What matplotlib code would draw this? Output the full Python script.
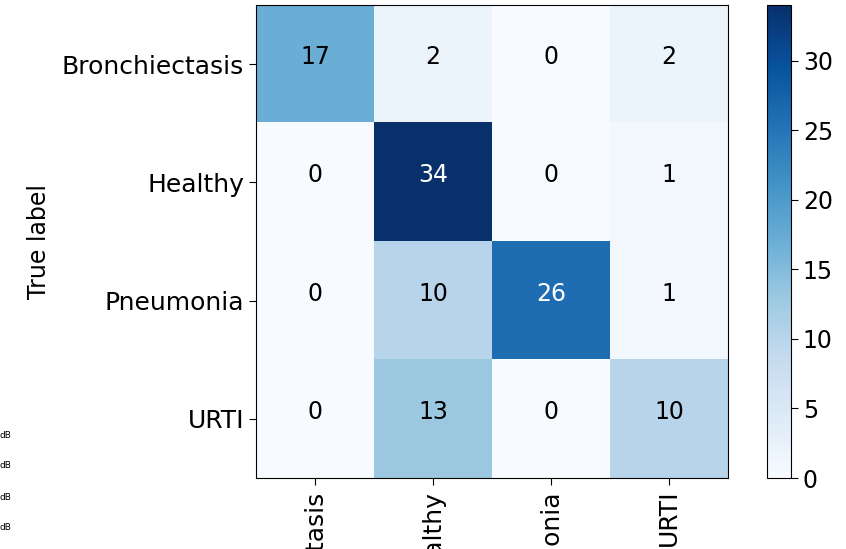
import numpy as np
import matplotlib
matplotlib.use("Agg")
import matplotlib.pyplot as plt

classes = ["Bronchiectasis", "Healthy", "Pneumonia", "URTI"]
cm = np.array([
    [17, 2, 0, 2],
    [0, 34, 0, 1],
    [0, 10, 26, 1],
    [0, 13, 0, 10],
])
cbar_ticks = [0, 5, 10, 15, 20, 25, 30]
side_labels = ["dB", "dB", "dB", "dB"]

fig = plt.figure(figsize=(8.46, 5.49), dpi=100)
ax = fig.add_axes([0.3026, 0.1293, 0.5579, 0.8616])
cax = fig.add_axes([0.9066, 0.1293, 0.0284, 0.8616])

im = ax.imshow(cm, interpolation="nearest", cmap=plt.cm.Blues, vmin=0, vmax=cm.max(), aspect="auto")
cb = fig.colorbar(im, cax=cax, ticks=cbar_ticks)
cb.ax.tick_params(labelsize=17, length=5)

ax.set_xticks(np.arange(len(classes)))
ax.set_xticklabels(classes, rotation=90, fontsize=18)
ax.set_yticks(np.arange(len(classes)))
ax.set_yticklabels(classes, fontsize=18)
ax.tick_params(length=5)
ax.set_ylabel("True label", fontsize=17, labelpad=8)
ax.set_xlabel("Predicted label", fontsize=17)

thresh = cm.max() / 2.0
for i in range(cm.shape[0]):
    for j in range(cm.shape[1]):
        ax.text(j, i, str(cm[i, j]), ha="center", fontsize=17,
                color="white" if cm[i, j] > thresh else "black")

# stray labels from a neighbouring plot
for k, lab in enumerate(side_labels):
    fig.text(0.0, 1 - (435 + 31 * k) / 549, lab, fontsize=6.5, va="center", ha="left")

fig.savefig("out.png", dpi=100)
